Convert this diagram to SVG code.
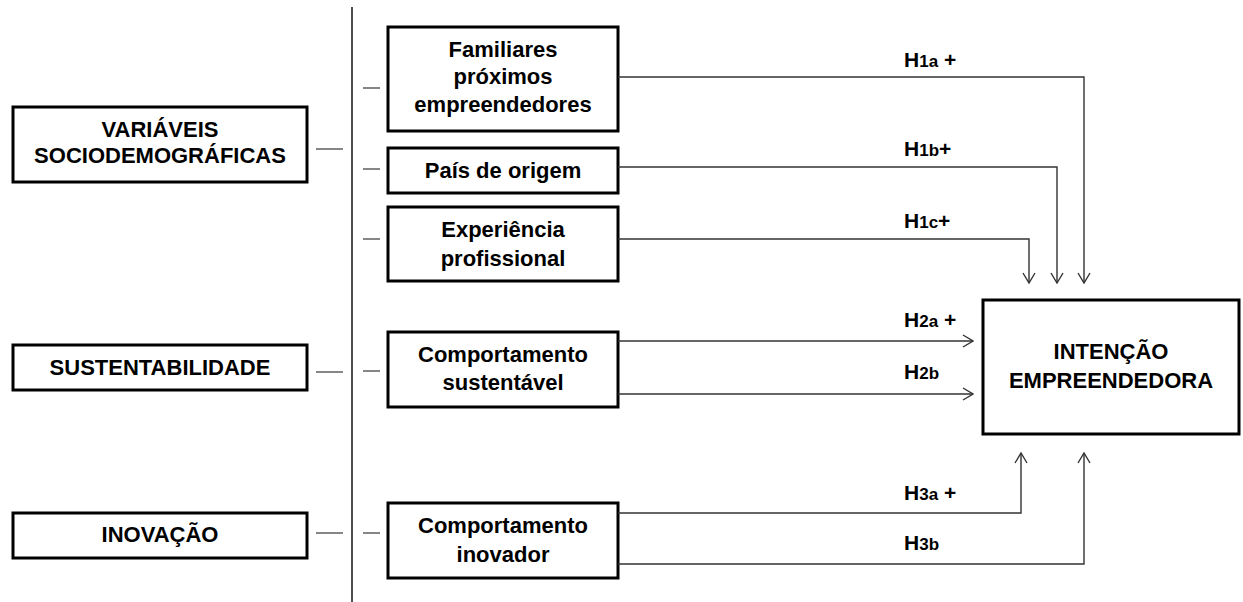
<svg xmlns="http://www.w3.org/2000/svg" width="1243" height="602" viewBox="0 0 1243 602">
<style>
.box{fill:#fff;stroke:#000;stroke-width:3}
.t{font-family:"Liberation Sans",Arial,sans-serif;font-weight:bold;font-size:22px;fill:#000;text-anchor:middle}
.h{font-family:"Liberation Sans",Arial,sans-serif;font-weight:bold;font-size:21px;fill:#000}
.s{font-size:17px}
.dash{stroke:#444;stroke-width:1.3;fill:none}
.conn{stroke:#333;stroke-width:1.4;fill:none;marker-end:url(#arr)}
</style>
<defs>
<marker id="arr" markerUnits="userSpaceOnUse" viewBox="-11 -7 12 14" refX="0" refY="0" markerWidth="12" markerHeight="14" orient="auto">
<path d="M-10,-6 L0,0 L-10,6" fill="none" stroke="#333" stroke-width="1.4"/>
</marker>
</defs>
<rect width="1243" height="602" fill="#fff"/>
<line x1="352" y1="7" x2="352" y2="602" stroke="#222" stroke-width="1.6"/>
<g id="n-sociodemograficas">
<rect class="box" x="13" y="107" width="294" height="75"/>
<text class="t" x="160" y="136.5">VARIÁVEIS</text>
<text class="t" x="160" y="162.5">SOCIODEMOGRÁFICAS</text>
</g>
<g id="n-sustentabilidade">
<rect class="box" x="13" y="345" width="294" height="45"/>
<text class="t" x="160" y="375">SUSTENTABILIDADE</text>
</g>
<g id="n-inovacao">
<rect class="box" x="13" y="513" width="294" height="45"/>
<text class="t" x="160" y="542">INOVAÇÃO</text>
</g>
<g id="n-familiares">
<rect class="box" x="388" y="27" width="230" height="104"/>
<text class="t" x="503" y="56.5">Familiares</text>
<text class="t" x="503" y="83.5">próximos</text>
<text class="t" x="503" y="112">empreendedores</text>
</g>
<g id="n-pais">
<rect class="box" x="388" y="148" width="230" height="45"/>
<text class="t" x="503" y="178">País de origem</text>
</g>
<g id="n-experiencia">
<rect class="box" x="388" y="207" width="230" height="74"/>
<text class="t" x="503" y="237">Experiência</text>
<text class="t" x="503" y="266">profissional</text>
</g>
<g id="n-comp-sustentavel">
<rect class="box" x="388" y="332" width="230" height="75"/>
<text class="t" x="503" y="362">Comportamento</text>
<text class="t" x="503" y="390">sustentável</text>
</g>
<g id="n-comp-inovador">
<rect class="box" x="388" y="503" width="230" height="75"/>
<text class="t" x="503" y="533">Comportamento</text>
<text class="t" x="503" y="561.5">inovador</text>
</g>
<g id="n-intencao">
<rect class="box" x="983" y="300" width="256" height="134"/>
<text class="t" x="1111" y="359">INTENÇÃO</text>
<text class="t" x="1111" y="388">EMPREENDEDORA</text>
</g>
<g id="connectors">
<line class="dash" x1="316" y1="149" x2="343" y2="149"/>
<line class="dash" x1="316" y1="372" x2="343" y2="372"/>
<line class="dash" x1="316" y1="533" x2="343" y2="533"/>
<line class="dash" x1="363" y1="88" x2="380" y2="88"/>
<line class="dash" x1="363" y1="169" x2="380" y2="169"/>
<line class="dash" x1="363" y1="239" x2="380" y2="239"/>
<line class="dash" x1="363" y1="371" x2="380" y2="371"/>
<line class="dash" x1="363" y1="533" x2="380" y2="533"/>
<path class="conn" d="M618,77 H1084 V283"/>
<path class="conn" d="M618,167 H1057 V283"/>
<path class="conn" d="M618,239 H1029 V283"/>
<path class="conn" d="M618,341 H973"/>
<path class="conn" d="M618,394 H973"/>
<path class="conn" d="M618,513 H1021 V453"/>
<path class="conn" d="M618,564 H1084 V453"/>
<text class="h" x="904" y="67">H<tspan class="s">1a</tspan> +</text>
<text class="h" x="904" y="156">H<tspan class="s">1b</tspan>+</text>
<text class="h" x="904" y="228">H<tspan class="s">1c</tspan>+</text>
<text class="h" x="904" y="327">H<tspan class="s">2a</tspan> +</text>
<text class="h" x="904" y="379">H<tspan class="s">2b</tspan></text>
<text class="h" x="904" y="500">H<tspan class="s">3a</tspan> +</text>
<text class="h" x="904" y="550">H<tspan class="s">3b</tspan></text>
</g>
</svg>
